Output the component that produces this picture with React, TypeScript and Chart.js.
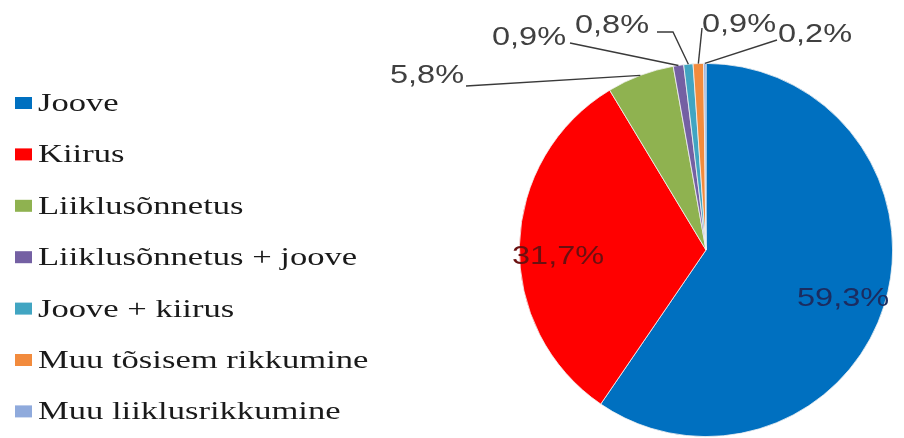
import React, { useEffect, useRef } from "react";
import { Chart, registerables } from "chart.js";

Chart.register(...registerables);

const categories = [
  "Joove",
  "Kiirus",
  "Liiklusõnnetus",
  "Liiklusõnnetus + joove",
  "Joove + kiirus",
  "Muu tõsisem rikkumine",
  "Muu liiklusrikkumine",
];
const values = [59.3, 31.7, 5.8, 0.9, 0.8, 0.9, 0.2];
const valueLabels = ["59,3%", "31,7%", "5,8%", "0,9%", "0,8%", "0,9%", "0,2%"];
const colors = ["#0070C0", "#FF0000", "#8FB250", "#7460A3", "#41A5C2", "#F28B3D", "#8FAADC"];

// label placement (layout only), relative to the pie centre, plus leader polyline elbows
const labelLayout = [
  { inside: true, dx: 91, dy: 56, color: "#1b2c60" },
  { inside: true, dx: -194, dy: 14, color: "#6a1010" },
  { inside: false, dx: -316, dy: -167, color: "#404040", start: [-240, -164] },
  { inside: false, dx: -214, dy: -205, color: "#404040", start: [-136, -207] },
  { inside: false, dx: -131, dy: -217, color: "#404040", start: [-49, -218], elbow: [-33, -218] },
  { inside: false, dx: -4, dy: -218, color: "#404040", start: [-4, -222] },
  { inside: false, dx: 72, dy: -208, color: "#404040", start: [71, -210] },
];

const SX = 1.25;

const customPlugin = {
  id: "custom",
  afterDraw(chart: any) {
    const ctx = chart.ctx as CanvasRenderingContext2D;
    const meta = chart.getDatasetMeta(0);
    // legend
    ctx.save();
    const labels = chart.data.labels as string[];
    labels.forEach((lab, i) => {
      const cy = 103 + i * 51.4;
      ctx.fillStyle = colors[i];
      ctx.fillRect(15, cy - 6, 17, 12);
      ctx.save();
      ctx.translate(38, cy + 8);
      ctx.scale(1.33, 1);
      ctx.font = '26px "Liberation Serif", "Times New Roman", serif';
      ctx.fillStyle = "#1a1a1a";
      ctx.textBaseline = "alphabetic";
      ctx.fillText(lab, 0, 0);
      ctx.restore();
    });
    ctx.restore();

    // value labels
    const arc0 = meta.data[0];
    const cx = arc0.x;
    const cy = arc0.y;
    meta.data.forEach((arc: any, i: number) => {
      const L = labelLayout[i];
      const tx = cx + L.dx;
      const ty = cy + L.dy;
      if (!L.inside) {
        const mid = (arc.startAngle + arc.endAngle) / 2;
        const ex = cx + Math.cos(mid) * arc.outerRadius;
        const ey = cy + Math.sin(mid) * arc.outerRadius;
        ctx.save();
        ctx.strokeStyle = "#3a3a3a";
        ctx.lineWidth = 1.4;
        ctx.beginPath();
        ctx.moveTo(cx + L.start[0], cy + L.start[1]);
        if (L.elbow) ctx.lineTo(cx + L.elbow[0], cy + L.elbow[1]);
        ctx.lineTo(ex, ey);
        ctx.stroke();
        ctx.restore();
      }
      ctx.save();
      ctx.translate(tx, ty);
      ctx.scale(SX, 1);
      ctx.font = '26px "Liberation Sans", Arial, sans-serif';
      ctx.fillStyle = L.color;
      ctx.textBaseline = "alphabetic";
      ctx.fillText(valueLabels[i], 0, 0);
      ctx.restore();
    });
  },
};

export default function App() {
  const ref = useRef<HTMLCanvasElement>(null);
  useEffect(() => {
    document.body.style.margin = "0";
    const chart = new Chart(ref.current!, {
      type: "pie",
      data: {
        labels: categories,
        datasets: [
          {
            data: values,
            backgroundColor: colors,
            borderColor: "#f2f2f2",
            borderWidth: 0.8,
          },
        ],
      },
      options: {
        animation: false,
        responsive: true,
        maintainAspectRatio: false,
        layout: { padding: { left: 519, right: 11, top: 63, bottom: 1 } },
        plugins: {
          legend: { display: false },
          tooltip: { enabled: false },
        },
      },
      plugins: [customPlugin],
    });
    return () => chart.destroy();
  }, []);
  return (
    <div style={{ width: 904, height: 438, position: "relative", background: "#fff" }}>
      <canvas ref={ref} />
    </div>
  );
}
